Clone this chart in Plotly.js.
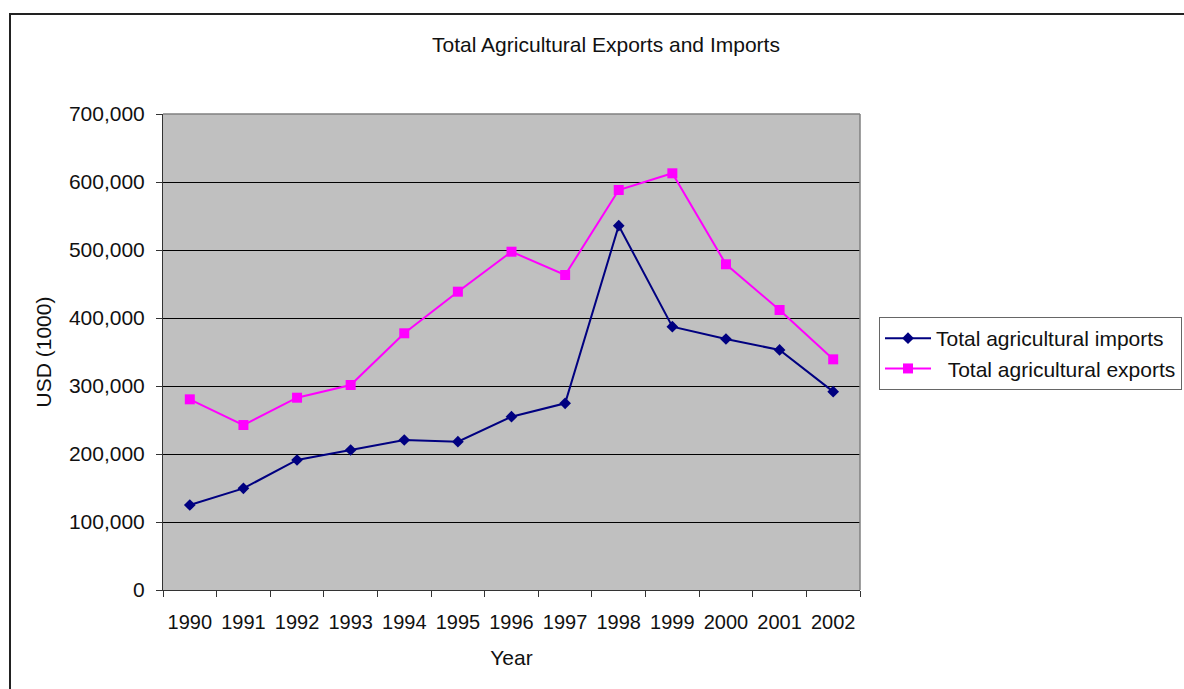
<!DOCTYPE html>
<html>
<head>
<meta charset="utf-8">
<script src="https://cdn.plot.ly/plotly-3.0.1.min.js"></script>
<style>
  html, body { margin: 0; padding: 0; background: #fff; }
  #chart { width: 1184px; height: 689px; }
</style>
</head>
<body>
<div id="chart"></div>
<script>
// Years on the category axis
const years = ['1990', '1991', '1992', '1993', '1994', '1995', '1996',
               '1997', '1998', '1999', '2000', '2001', '2002'];

// Values in thousands of USD
const importsUSD = [125000, 149500, 191200, 205900, 220600, 218100, 254900,
                    274500, 535800, 387300, 369100, 353000, 291700];
const exportsUSD = [280400, 242600, 282800, 301500, 377500, 438700, 497500,
                    463200, 588200, 612800, 479000, 411800, 339200];

const seriesNames = ['Total agricultural imports', '\u00a0\u00a0Total agricultural exports'];
const chartTitle = 'Total Agricultural Exports and Imports';
const yTitle = 'USD (1000)';
const xTitle = 'Year';

const FONT = 'Liberation Sans, Arial, sans-serif';
const TXT = '#111';

const traces = [
  {
    x: years, y: importsUSD, name: seriesNames[0],
    type: 'scatter', mode: 'lines+markers',
    line: { color: '#000080', width: 2 },
    marker: { symbol: 'diamond', size: 9, color: '#000080' }
  },
  {
    x: years, y: exportsUSD, name: seriesNames[1],
    type: 'scatter', mode: 'lines+markers',
    line: { color: '#FF00FF', width: 2 },
    marker: { symbol: 'square', size: 10, color: '#FF00FF' }
  }
];

const layout = {
  width: 1184, height: 689,
  paper_bgcolor: '#ffffff',
  plot_bgcolor: '#C0C0C0',
  font: { family: FONT, size: 21, color: TXT },
  margin: { l: 163, r: 324, t: 114, b: 99, pad: 0, autoexpand: false },
  showlegend: true,
  hovermode: false,
  title: {
    text: chartTitle,
    font: { family: FONT, size: 21, color: TXT },
    xref: 'container', yref: 'container',
    x: 606 / 1184, y: 1 - 45 / 689,
    xanchor: 'center', yanchor: 'middle'
  },
  xaxis: {
    type: 'category',
    range: [-0.5, 12.5],
    tickson: 'boundaries',
    tickangle: 0,
    ticks: 'outside', ticklen: 6, tickwidth: 1, tickcolor: '#333',
    showline: true, linecolor: '#333', linewidth: 1,
    showgrid: false, zeroline: false,
    tickfont: { family: FONT, size: 20, color: TXT },
    ticklabelstandoff: 14,
    title: { text: xTitle, font: { family: FONT, size: 21, color: TXT }, standoff: 18 }
  },
  yaxis: {
    range: [0, 700000],
    dtick: 100000, tick0: 0,
    tickformat: ',d',
    ticks: 'outside', ticklen: 6, tickwidth: 1, tickcolor: '#333',
    showline: true, linecolor: '#333', linewidth: 1,
    showgrid: true, gridcolor: '#000000', gridwidth: 1,
    zeroline: false,
    tickfont: { family: FONT, size: 21, color: TXT },
    ticklabelstandoff: 7,
    title: { text: yTitle, font: { family: FONT, size: 21, color: TXT }, standoff: 11 }
  },
  legend: {
    x: (879 - 163) / 697, y: (590 - 317) / 476,
    xanchor: 'left', yanchor: 'top',
    bgcolor: '#ffffff', bordercolor: '#666666', borderwidth: 1,
    font: { family: FONT, size: 21, color: TXT },
    itemwidth: 46,
    traceorder: 'normal'
  },
  shapes: [
    // plot area frame on the top and right sides
    { type: 'line', xref: 'paper', yref: 'paper', x0: 0, x1: 1, y0: 1, y1: 1,
      line: { color: '#808080', width: 1.5 }, layer: 'above' },
    { type: 'line', xref: 'paper', yref: 'paper', x0: 1, x1: 1, y0: 0, y1: 1,
      line: { color: '#808080', width: 1.5 }, layer: 'above' },
    // outer chart border
    { type: 'rect', xref: 'paper', yref: 'paper',
      x0: (10 - 163) / 697, x1: 2, y0: -1, y1: (590 - 14) / 476,
      line: { color: '#222222', width: 2 }, fillcolor: 'rgba(0,0,0,0)', layer: 'above' }
  ]
};

Plotly.newPlot('chart', traces, layout, { staticPlot: true, displayModeBar: false });
</script>
</body>
</html>
